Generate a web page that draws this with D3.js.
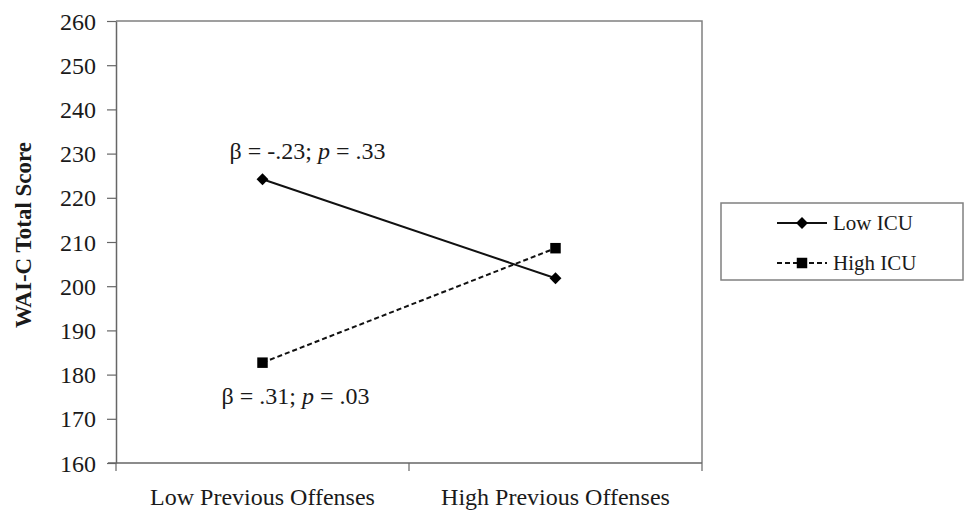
<!DOCTYPE html>
<html>
<head>
<meta charset="utf-8">
<script src="https://cdn.jsdelivr.net/npm/d3@7"></script>
<style>
  body { margin: 0; background: #fff; }
  svg text { font-family: 'Liberation Serif', 'DejaVu Serif', serif; fill: #1a1a1a; }
</style>
</head>
<body>
<div id="chart"></div>
<script>
// data
const categories = ['Low Previous Offenses', 'High Previous Offenses'];
const lowICU = [224.2, 201.8];
const highICU = [182.7, 208.6];
const yTicks = [160, 170, 180, 190, 200, 210, 220, 230, 240, 250, 260];
const seriesNames = ['Low ICU', 'High ICU'];
const annotations = ['β = -.23; ', 'β = .31; '];
const pValues = ['.33', '.03'];

const FONT = "'Liberation Serif', 'DejaVu Serif', serif";
const width = 964, height = 510;
const margin = { top: 21, right: 262, bottom: 47, left: 116 };
const innerW = width - margin.left - margin.right;
const innerH = height - margin.top - margin.bottom;

const svg = d3.select('#chart').append('svg')
    .attr('width', width)
    .attr('height', height)
    .attr('font-family', FONT);

const chart = svg.append('g')
    .attr('transform', `translate(${margin.left},${margin.top})`);

// scales
const xScale = d3.scaleBand().domain(categories).range([0, innerW]);
const yScale = d3.scaleLinear().domain([160, 260]).range([innerH, 0]);
const xPos = (i) => xScale(categories[i]) + xScale.bandwidth() / 2;

// frame (top and right)
chart.append('path')
    .attr('d', `M0,0H${innerW}V${innerH}`)
    .attr('fill', 'none')
    .attr('stroke', '#808080')
    .attr('stroke-width', 1.5);

// y axis
const yAxis = chart.append('g')
    .call(d3.axisLeft(yScale).tickValues(yTicks).tickSize(9).tickPadding(11).tickSizeOuter(0))
    .attr('font-family', FONT);
yAxis.select('.domain').attr('stroke', '#666').attr('stroke-width', 1.5);
yAxis.selectAll('.tick line').attr('stroke', '#666').attr('stroke-width', 1.2);
yAxis.selectAll('.tick text')
    .style('font-family', FONT)
    .style('font-size', '24px')
    .attr('fill', '#222')
    .attr('dy', '0.34em');

// x axis: ticks at category boundaries
const xAxisG = chart.append('g').attr('transform', `translate(0,${innerH})`);
xAxisG.append('line')
    .attr('x1', -8).attr('x2', innerW)
    .attr('stroke', '#666').attr('stroke-width', 1.5);
const boundaries = categories.map(c => xScale(c)).concat([innerW]);
xAxisG.selectAll('.bt').data(boundaries).join('line')
    .attr('class', 'bt')
    .attr('x1', d => d).attr('x2', d => d)
    .attr('y1', 0).attr('y2', 8)
    .attr('stroke', '#666').attr('stroke-width', 1.2);
xAxisG.selectAll('.xl').data(categories).join('text')
    .attr('class', 'xl')
    .attr('x', d => xScale(d) + xScale.bandwidth() / 2)
    .attr('y', 42)
    .attr('text-anchor', 'middle')
    .style('font-family', FONT)
    .style('font-size', '24px')
    .text(d => d);

// y title
svg.append('text')
    .attr('transform', `translate(31,${margin.top + innerH / 2 - 7}) rotate(-90)`)
    .attr('text-anchor', 'middle')
    .style('font-family', FONT)
    .style('font-size', '23px')
    .style('font-weight', 'bold')
    .text('WAI-C Total Score');

// lines
const line = d3.line()
    .x((d, i) => xPos(i))
    .y(d => yScale(d));

chart.append('path')
    .datum(lowICU)
    .attr('d', line)
    .attr('fill', 'none')
    .attr('stroke', '#111')
    .attr('stroke-width', 2);

chart.append('path')
    .datum(highICU)
    .attr('d', line)
    .attr('fill', 'none')
    .attr('stroke', '#111')
    .attr('stroke-width', 2)
    .attr('stroke-dasharray', '5,3');

// markers
const diamond = d3.symbol().type(d3.symbolDiamond2).size(90);
const square = d3.symbol().type(d3.symbolSquare).size(110);

chart.selectAll('.dm').data(lowICU).join('path')
    .attr('class', 'dm')
    .attr('d', diamond)
    .attr('transform', (d, i) => `translate(${xPos(i)},${yScale(d)})`)
    .attr('fill', '#000');

chart.selectAll('.sq').data(highICU).join('path')
    .attr('class', 'sq')
    .attr('d', square)
    .attr('transform', (d, i) => `translate(${xPos(i)},${yScale(d)})`)
    .attr('fill', '#000');

// annotations
const annY = [yScale(lowICU[0]) - 20, yScale(highICU[0]) + 41];
const annX = [xPos(0) + 45, xPos(0) + 33];
annotations.forEach((a, i) => {
    const t = chart.append('text')
        .attr('x', annX[i])
        .attr('y', annY[i])
        .attr('text-anchor', 'middle')
        .style('font-family', FONT)
        .style('font-size', '24px');
    t.append('tspan').text(a);
    t.append('tspan').style('font-style', 'italic').text('p');
    t.append('tspan').text(' = ' + pValues[i]);
});

// legend
const legend = svg.append('g').attr('transform', 'translate(721,203)');
legend.append('rect')
    .attr('width', 242).attr('height', 77)
    .attr('fill', '#fff')
    .attr('stroke', '#808080')
    .attr('stroke-width', 1.5);

const legendRows = [
    { name: seriesNames[0], dash: null, sym: diamond, y: 20 },
    { name: seriesNames[1], dash: '5,3', sym: square, y: 60 }
];
legendRows.forEach(r => {
    legend.append('line')
        .attr('x1', 56).attr('x2', 106)
        .attr('y1', r.y).attr('y2', r.y)
        .attr('stroke', '#111')
        .attr('stroke-width', 2)
        .attr('stroke-dasharray', r.dash);
    legend.append('path')
        .attr('d', r.sym)
        .attr('transform', `translate(81,${r.y})`)
        .attr('fill', '#000');
    legend.append('text')
        .attr('x', 112)
        .attr('y', r.y + 7)
        .style('font-family', FONT)
        .style('font-size', '21px')
        .text(r.name);
});
</script>
</body>
</html>
